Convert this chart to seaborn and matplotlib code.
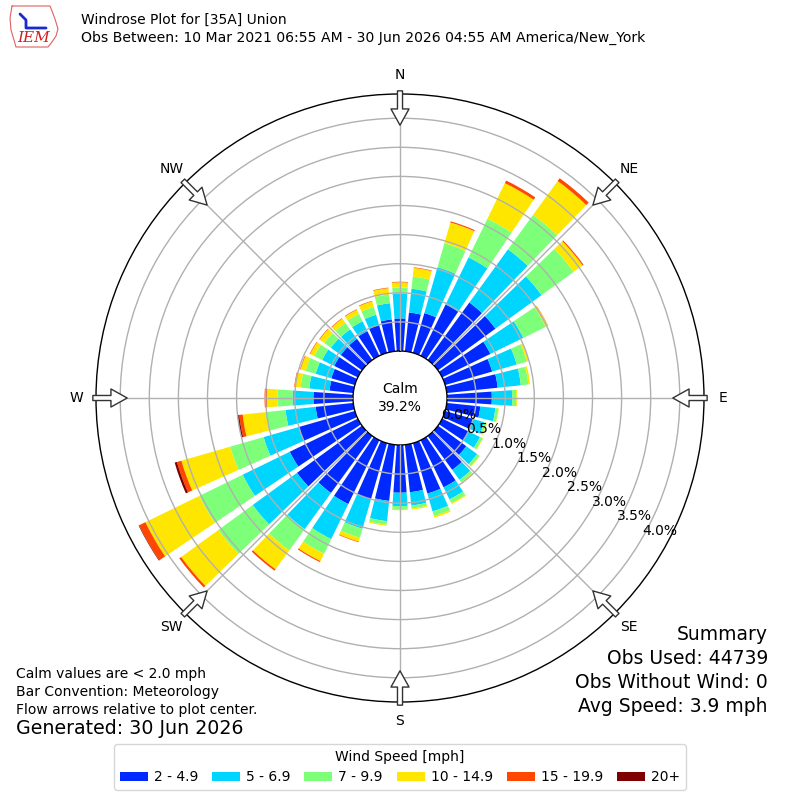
import numpy as np
import matplotlib
matplotlib.use("Agg")
import matplotlib.pyplot as plt
import seaborn as sns
from matplotlib.patches import Patch
from matplotlib.lines import Line2D

# --- data (percent of all observations) ---
directions = np.arange(0, 360, 10)
speed_bins = ["2 - 4.9", "5 - 6.9", "7 - 9.9", "10 - 14.9", "15 - 19.9", "20+"]

freq_2_5 = [0.56, 0.67, 0.71, 0.98, 1.22, 1.22, 0.92, 0.84, 0.88, 0.77, 0.58, 0.50,
            0.50, 0.60, 0.72, 0.90, 0.90, 0.82, 0.82, 0.97, 1.00, 1.22, 1.21, 1.38,
            1.30, 1.00, 0.65, 0.68, 0.41, 0.42, 0.45, 0.45, 0.45, 0.47, 0.50, 0.55]
freq_5_7 = [0.43, 0.41, 0.82, 0.90, 1.13, 0.98, 0.63, 0.44, 0.40, 0.35, 0.26, 0.20,
            0.22, 0.23, 0.21, 0.23, 0.32, 0.23, 0.23, 0.35, 0.53, 0.67, 0.77, 0.94,
            0.90, 0.63, 0.52, 0.36, 0.35, 0.28, 0.23, 0.21, 0.20, 0.19, 0.18, 0.28]
freq_7_10 = [0.10, 0.21, 0.43, 0.74, 0.73, 0.68, 0.43, 0.18, 0.13, 0.07, 0.05, 0.04,
             0.05, 0.05, 0.05, 0.07, 0.08, 0.05, 0.05, 0.06, 0.16, 0.28, 0.45, 0.73,
             0.83, 0.60, 0.34, 0.26, 0.15, 0.18, 0.15, 0.14, 0.14, 0.14, 0.14, 0.15]
freq_10_15 = [0.09, 0.15, 0.37, 0.68, 0.72, 0.19, 0.04, 0.03, 0.03, 0.02, 0.01, 0.01,
              0.01, 0.01, 0.02, 0.02, 0.03, 0.02, 0.02, 0.02, 0.07, 0.14, 0.40, 0.79,
              1.03, 0.87, 0.40, 0.18, 0.10, 0.09, 0.08, 0.10, 0.09, 0.08, 0.10, 0.11]
freq_15_20 = [0.01, 0.01, 0.02, 0.05, 0.06, 0.02, 0.005, 0.0, 0.0, 0.0, 0.0, 0.0,
              0.0, 0.0, 0.0, 0.0, 0.0, 0.0, 0.0, 0.0, 0.01, 0.02, 0.03, 0.04,
              0.12, 0.08, 0.06, 0.04, 0.01, 0.01, 0.01, 0.01, 0.01, 0.01, 0.01, 0.01]
freq_20p = [0.0] * 24 + [0.01, 0.04, 0.03] + [0.0] * 9

calm_pct = 39.2
ring_values = [0.0, 0.5, 1.0, 1.5, 2.0, 2.5, 3.0, 3.5, 4.0]
compass = ["N", "NE", "E", "SE", "S", "SW", "W", "NW"]

# --- style ---
sns.set_style("white")
plt.rcParams["font.family"] = ["DejaVu Sans"]
plt.rcParams["text.color"] = "black"
plt.rcParams["xtick.color"] = "black"
plt.rcParams["ytick.color"] = "black"
colors = plt.get_cmap("jet")(np.linspace(1 / 6, 1, 6))

fig = plt.figure(figsize=(8, 8), dpi=100)
ax = fig.add_axes([0.12, 0.1225, 0.76, 0.76], projection="polar")
ax.set_theta_zero_location("N")
ax.set_theta_direction(-1)
ax.set_rorigin(-0.8076)
ax.set_ylim(0, 4.416)

theta = np.deg2rad(directions)
series = [freq_2_5, freq_5_7, freq_7_10, freq_10_15, freq_15_20, freq_20p]
bottom = np.zeros(len(directions))
for vals, col in zip(series, colors):
    vals = np.asarray(vals)
    ax.bar(theta, vals, width=np.deg2rad(8), bottom=bottom, color=col,
           edgecolor="none", linewidth=0, zorder=1)
    bottom = bottom + vals

# grid on top of bars
ax.set_axisbelow(False)
ax.set_yticks(ring_values[1:])
ax.set_yticklabels([])
ax.yaxis.grid(True, color="#b0b0b0", lw=1)
ax.set_xticks(np.deg2rad(np.arange(0, 360, 45)))
ax.set_xticklabels(compass, fontsize=10, color="black")
ax.xaxis.grid(True, color="#b0b0b0", lw=1)
ax.tick_params(axis="x", pad=3.5)
for sp in ax.spines.values():
    sp.set_color("black")
    sp.set_linewidth(1)

for v in ring_values:
    ax.text(np.deg2rad(120), v, f"{v:.1f}%", ha="left", va="bottom", fontsize=10)

ax.text(0.5, 0.5, f"Calm\n{calm_pct:.1f}%", transform=ax.transAxes,
        ha="center", va="center", fontsize=10, linespacing=1.3)

# flow arrows
for ang in np.arange(0, 360, 45):
    t = np.deg2rad(ang)
    ax.annotate("", xy=(t, 3.88), xytext=(t, 4.47), annotation_clip=False,
                arrowprops=dict(arrowstyle="simple,head_length=0.9,head_width=1.0,tail_width=0.28",
                                mutation_scale=13, fc="white", ec="#333333", lw=1,
                                shrinkA=0, shrinkB=0))

# header
fig.text(81 / 800, 1 - 20 / 800, "Windrose Plot for [35A] Union", fontsize=10, va="center")
fig.text(81 / 800, 1 - 38 / 800,
         "Obs Between: 10 Mar 2021 06:55 AM - 30 Jun 2026 04:55 AM America/New_York",
         fontsize=10.1, va="center")

# simple IEM logo
outline_x = [12, 50, 52, 55, 58, 56, 52, 48, 16, 14, 11, 10, 12]
outline_y = [6, 6, 11, 19, 29, 36, 42, 47, 47, 40, 30, 18, 6]
fig.add_artist(Line2D(np.array(outline_x) / 800, 1 - np.array(outline_y) / 800,
                      color="#e06060", lw=0.8))
fig.add_artist(Line2D(np.array([20, 26, 26, 46]) / 800, 1 - np.array([14, 20, 28, 28]) / 800,
                      color="#1a2ad0", lw=2))
fig.text(34 / 800, 1 - 38 / 800, "IEM", color="#d02020", fontsize=11, style="italic",
         family="DejaVu Serif", ha="center", va="center")

# notes
fig.text(16 / 800, 1 - 674 / 800, "Calm values are < 2.0 mph", fontsize=10, va="center")
fig.text(16 / 800, 1 - 692 / 800, "Bar Convention: Meteorology", fontsize=10, va="center")
fig.text(16 / 800, 1 - 710 / 800, "Flow arrows relative to plot center.", fontsize=10, va="center")
fig.text(16 / 800, 1 - 729 / 800, "Generated: 30 Jun 2026", fontsize=13.7, va="center")

summary = ["Summary", "Obs Used: 44739", "Obs Without Wind: 0", "Avg Speed: 3.9 mph"]
for i, s in enumerate(summary):
    fig.text(768 / 800, 1 - (635 + i * 23.7) / 800, s, fontsize=13.5, ha="right", va="center")

handles = [Patch(facecolor=c, edgecolor="none") for c in colors]
fig.legend(handles, speed_bins, loc="lower center", bbox_to_anchor=(0.5, 0.0125), ncol=6,
           title="Wind Speed [mph]", fontsize=10, title_fontsize=10, frameon=True,
           borderaxespad=0, columnspacing=1.0, handletextpad=0.45)

fig.savefig("out.png", dpi=100)
